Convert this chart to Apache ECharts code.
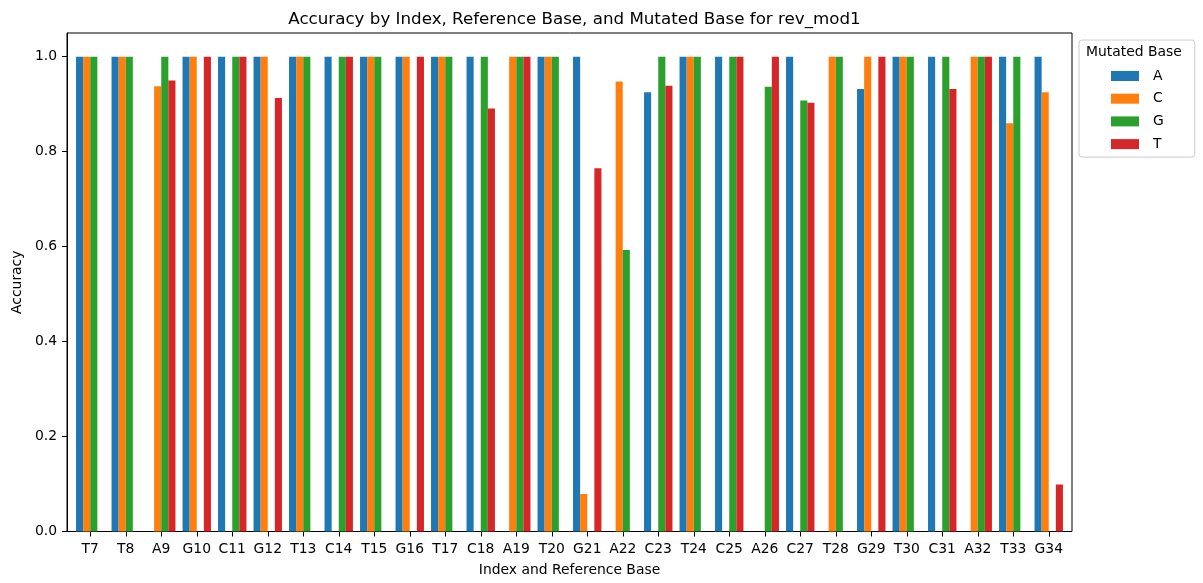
<!DOCTYPE html>
<html>
<head>
<meta charset="utf-8">
<title>Accuracy by Index</title>
<script src="https://cdn.jsdelivr.net/npm/echarts@6/dist/echarts.min.js"></script>
<style>
  html, body { margin: 0; padding: 0; background: #ffffff; }
  #chart { width: 1203px; height: 583px; }
</style>
</head>
<body>
<div id="chart"></div>
<script>
// Positions along the sequence, labelled with their reference base
const categories = ['T7', 'T8', 'A9', 'G10', 'C11', 'G12', 'T13', 'C14', 'T15', 'G16',
  'T17', 'C18', 'A19', 'T20', 'G21', 'A22', 'C23', 'T24', 'C25', 'A26',
  'C27', 'T28', 'G29', 'T30', 'C31', 'A32', 'T33', 'G34'];

// Accuracy per mutated base (null where the mutated base equals the reference)
const accA = [1.0, 1.0, null, 1.0, 1.0, 1.0, 1.0, 1.0, 1.0, 1.0,
  1.0, 1.0, null, 1.0, 1.0, null, 0.925, 1.0, 1.0, null,
  1.0, null, 0.932, 1.0, 1.0, null, 1.0, 1.0];
const accC = [1.0, 1.0, 0.938, 1.0, null, 1.0, 1.0, null, 1.0, 1.0,
  1.0, null, 1.0, 1.0, 0.079, 0.948, null, 1.0, null, null,
  null, 1.0, 1.0, 1.0, null, 1.0, 0.860, 0.925];
const accG = [1.0, 1.0, 1.0, null, 1.0, null, 1.0, 1.0, 1.0, null,
  1.0, 1.0, 1.0, 1.0, null, 0.593, 1.0, 1.0, 1.0, 0.937,
  0.908, 1.0, null, 1.0, 1.0, 1.0, 1.0, null];
const accT = [null, null, 0.950, 1.0, 1.0, 0.913, null, 1.0, null, 1.0,
  null, 0.891, 1.0, null, 0.765, null, 0.939, null, 1.0, 1.0,
  0.903, null, 1.0, null, 0.932, 1.0, null, 0.099];

const yTicks = [0.0, 0.2, 0.4, 0.6, 0.8, 1.0];
const baseNames = ['A', 'C', 'G', 'T'];
const baseColors = ['#1f77b4', '#ff7f0e', '#2ca02c', '#d62728'];
const seriesValues = [accA, accC, accG, accT];

const FONT = 'DejaVu Sans';
const chart = echarts.init(document.getElementById('chart'), null, { renderer: 'canvas' });

const axesTop = 33, axesBottom = 583 - 531.5;

const option = {
  animation: false,
  backgroundColor: '#ffffff',
  textStyle: { fontFamily: FONT },
  title: {
    text: 'Accuracy by Index, Reference Base, and Mutated Base for rev_mod1',
    left: 569.5,
    textAlign: 'center',
    top: 6,
    textStyle: { fontFamily: FONT, fontSize: 16.7, fontWeight: 'normal', color: '#000' }
  },
  legend: {
    data: baseNames,
    orient: 'vertical',
    left: 1079,
    top: 40,
    padding: [29, 31, 6, 32],
    itemWidth: 28,
    itemHeight: 10,
    itemGap: 8.7,
    borderColor: '#cccccc',
    borderWidth: 1,
    borderRadius: 3,
    icon: 'rect',
    textStyle: { fontFamily: FONT, fontSize: 13.9, color: '#000', padding: [0, 0, 0, 9] }
  },
  graphic: [{
    type: 'text',
    left: 1086,
    top: 45,
    style: { text: 'Mutated Base', fontFamily: FONT, fontSize: 13.9, fill: '#000' }
  }],
  grid: [
    // frame with the value axis
    { left: 67, right: 1203 - 1072, top: axesTop, bottom: axesBottom,
      show: true, borderColor: '#000', borderWidth: 1, backgroundColor: 'transparent' },
    // bars, with the category band spacing of the plot
    { left: 72.5, width: 994, top: axesTop, bottom: axesBottom }
  ],
  xAxis: [
    { gridIndex: 0, type: 'value', min: 0, max: 1, show: false },
    {
      gridIndex: 1,
      type: 'category',
      data: categories,
      boundaryGap: true,
      name: 'Index and Reference Base',
      nameLocation: 'middle',
      nameGap: 32,
      nameTextStyle: { fontFamily: FONT, fontSize: 13.9, color: '#000' },
      axisLine: { show: false },
      axisTick: { show: true, alignWithLabel: true, length: 5, lineStyle: { color: '#000', width: 1 } },
      axisLabel: { interval: 0, margin: 11, fontFamily: FONT, fontSize: 13.9, color: '#000' },
      splitLine: { show: false }
    }
  ],
  yAxis: [
    {
      gridIndex: 0,
      type: 'value',
      min: 0,
      max: 1.05,
      interval: 0.2,
      name: 'Accuracy',
      nameLocation: 'middle',
      nameGap: 41,
      nameTextStyle: { fontFamily: FONT, fontSize: 13.9, color: '#000' },
      axisLine: { show: true, lineStyle: { color: '#000', width: 1 } },
      axisTick: { show: true, length: 5, customValues: yTicks, lineStyle: { color: '#000', width: 1 } },
      axisLabel: {
        margin: 10, fontFamily: FONT, fontSize: 13.9, color: '#000',
        customValues: yTicks,
        formatter: v => v.toFixed(1)
      },
      splitLine: { show: false }
    },
    { gridIndex: 1, type: 'value', min: 0, max: 1.05, show: false }
  ],
  series: baseNames.map((name, i) => ({
    name: name,
    type: 'bar',
    xAxisIndex: 1,
    yAxisIndex: 1,
    data: seriesValues[i],
    barGap: '0%',
    barCategoryGap: '20%',
    itemStyle: { color: baseColors[i] }
  }))
};

chart.setOption(option);
</script>
</body>
</html>
